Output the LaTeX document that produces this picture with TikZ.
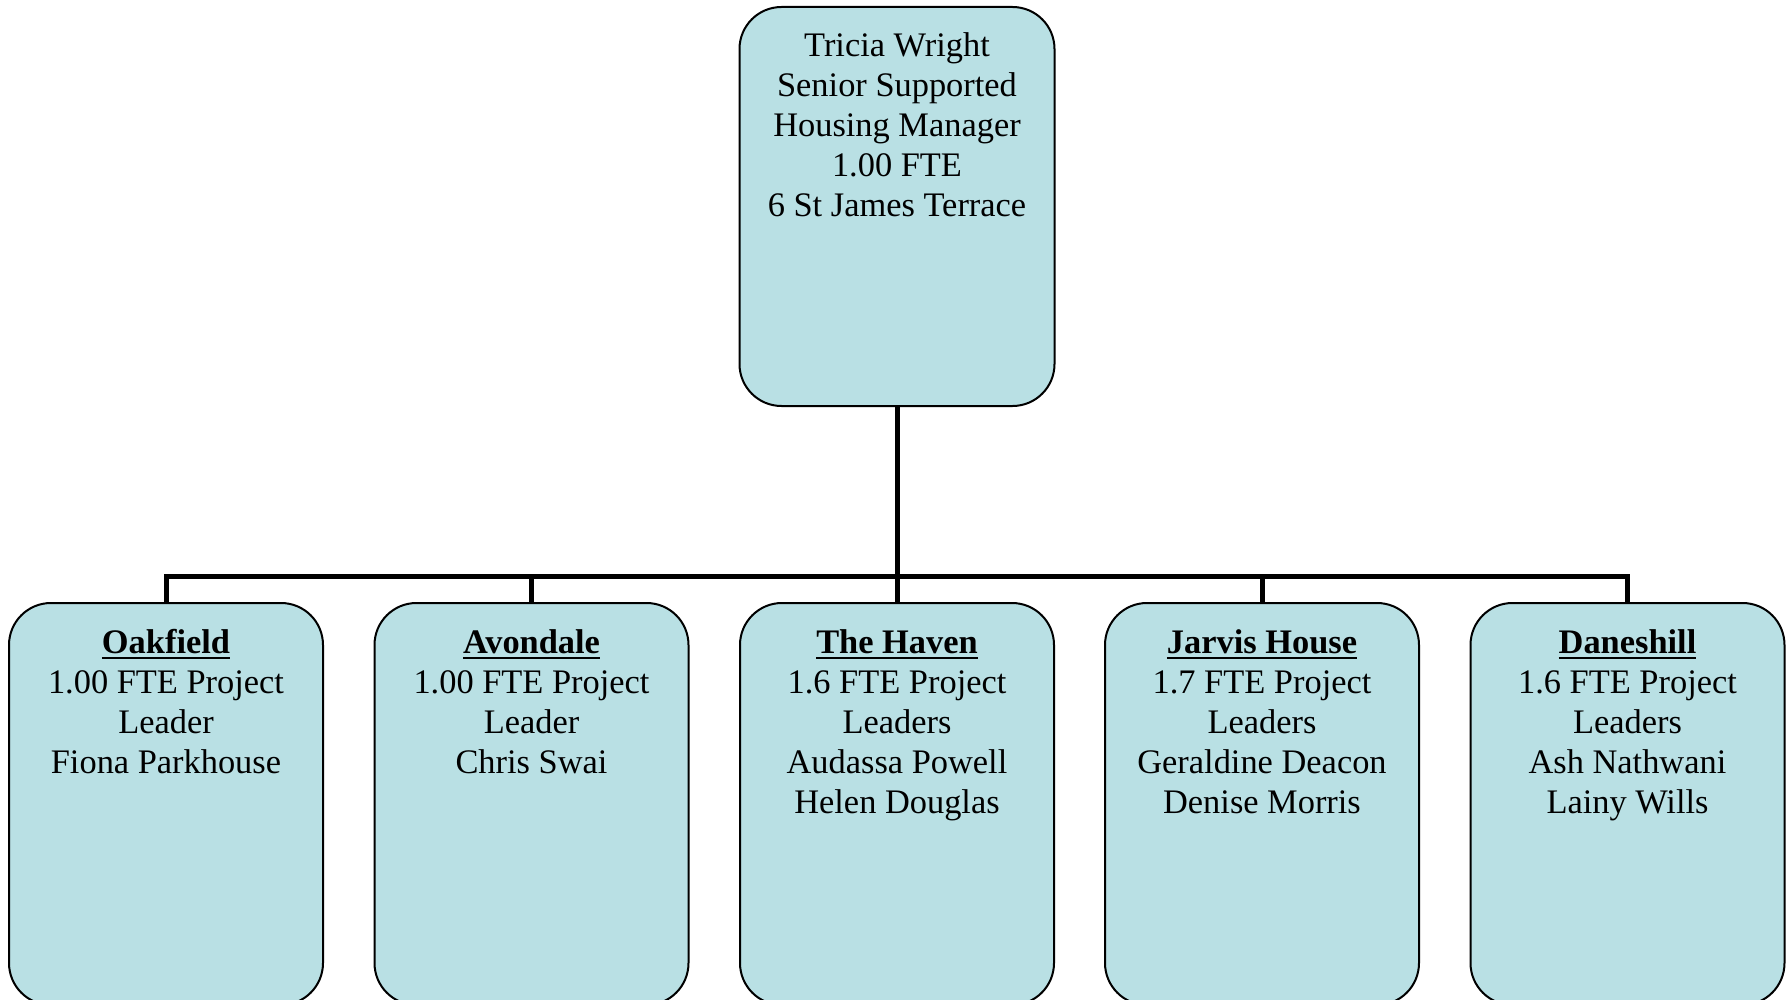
\documentclass[tikz,border=0pt]{standalone}
\usepackage{fontspec}
\setmainfont{Liberation Serif}
\definecolor{boxfill}{RGB}{185,224,228}
% bold underlined site heading
\newcommand{\sitename}[1]{\leavevmode\setbox0\hbox{\bfseries #1}\rlap{\rule[-3.2pt]{\wd0}{1.4pt}}\box0}
\tikzset{
  unitbox/.style={draw=black, line width=1pt, fill=boxfill, rounded corners=21pt,
                  inner sep=0pt, minimum width=157pt},
  txt/.style={inner sep=0pt, anchor=base, font=\fontsize{17.2pt}{20pt}\selectfont},
  conn/.style={draw=black, line width=2.5pt, line join=miter},
}
\newcommand{\lines}[1]{\parbox[t]{156pt}{\centering #1}}
\begin{document}
\begin{tikzpicture}[x=0.5pt, y=-0.5pt]
\useasboundingbox (0,0) rectangle (1788,1000);
\clip (0,0) rectangle (1788,1000);

% manager
\node[unitbox, minimum width=157.5pt, minimum height=199.5pt] (top) at (897,206.5) {};
\node[txt] (ttop) at (897,57) {\lines{Tricia Wright\\Senior Supported\\Housing Manager\\1.00 FTE\\6 St James Terrace}};

% project sites
\node[unitbox, minimum height=201pt] (b1) at (166,804) {};
\node[unitbox, minimum height=201pt] (b2) at (531.5,804) {};
\node[unitbox, minimum height=201pt] (b3) at (897,804) {};
\node[unitbox, minimum height=201pt] (b4) at (1262,804) {};
\node[unitbox, minimum height=201pt] (b5) at (1627.5,804) {};

\node[txt] (t1) at (166,653) {\lines{\sitename{Oakfield}\\1.00 FTE Project\\Leader\\Fiona Parkhouse}};
\node[txt] (t2) at (531.5,653) {\lines{\sitename{Avondale}\\1.00 FTE Project\\Leader\\Chris Swai}};
\node[txt] (t3) at (897,653) {\lines{\sitename{The Haven}\\1.6 FTE Project\\Leaders\\Audassa Powell\\Helen Douglas}};
\node[txt] (t4) at (1262,653) {\lines{\sitename{Jarvis House}\\1.7 FTE Project\\Leaders\\Geraldine Deacon\\Denise Morris}};
\node[txt] (t5) at (1627.5,653) {\lines{\sitename{Daneshill}\\1.6 FTE Project\\Leaders\\Ash Nathwani\\Lainy Wills}};

% reporting lines
\coordinate (bus) at (0,576);
\draw[conn] (b1.north) -- (b1.north |- bus) -- (b5.north |- bus) -- (b5.north);
\draw[conn] (top.south) -- (b3.north);
\draw[conn] (b2.north) -- (b2.north |- bus);
\draw[conn] (b4.north) -- (b4.north |- bus);
\end{tikzpicture}
\end{document}
